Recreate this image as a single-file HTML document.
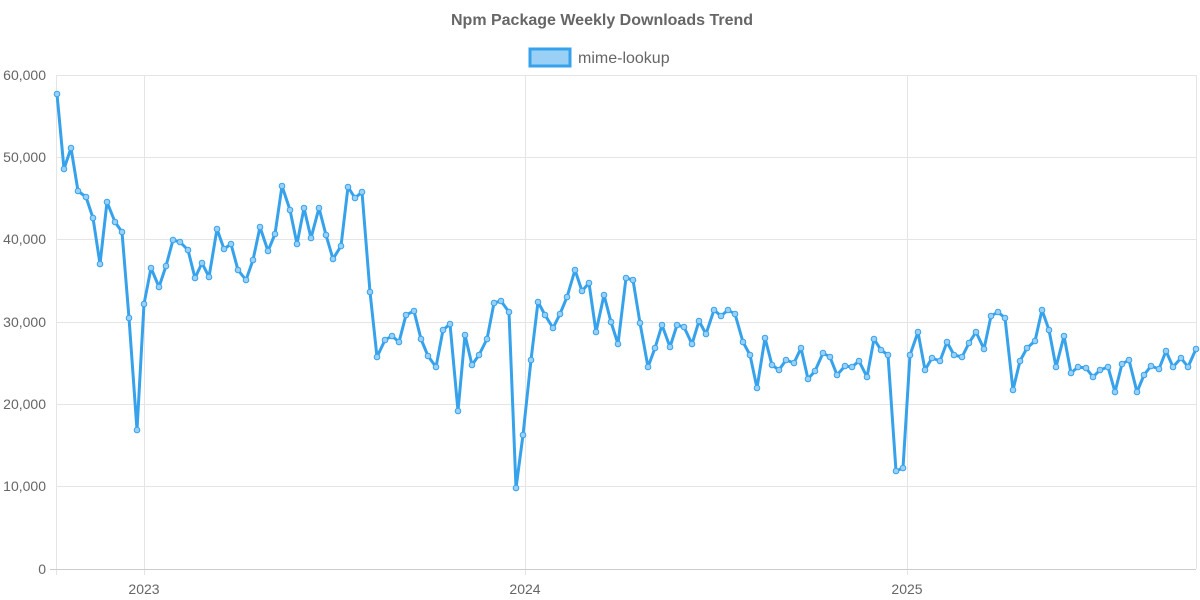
<!DOCTYPE html>
<html><head><meta charset="utf-8"><style>
html,body{margin:0;padding:0;background:#fff;}
svg{display:block;font-family:"Liberation Sans",Arial,sans-serif;}
</style></head><body>
<svg width="1200" height="600" viewBox="0 0 1200 600">
<text x="602" y="25" text-anchor="middle" font-size="16" font-weight="bold" fill="#666">Npm Package Weekly Downloads Trend</text>
<rect x="530" y="49" width="40" height="17" fill="#9ad0f5" stroke="#36a2eb" stroke-width="3"/>
<text x="578" y="63" font-size="16" fill="#666">mime-lookup</text>
<g stroke="#e5e5e5" stroke-width="1">
<line x1="57" y1="75.5" x2="1196" y2="75.5"/>
<line x1="57" y1="157.5" x2="1196" y2="157.5"/>
<line x1="57" y1="239.5" x2="1196" y2="239.5"/>
<line x1="57" y1="322.5" x2="1196" y2="322.5"/>
<line x1="57" y1="404.5" x2="1196" y2="404.5"/>
<line x1="57" y1="486.5" x2="1196" y2="486.5"/>
<line x1="56.5" y1="75" x2="56.5" y2="575"/>
<line x1="144.5" y1="75" x2="144.5" y2="575"/>
<line x1="525.5" y1="75" x2="525.5" y2="575"/>
<line x1="907.5" y1="75" x2="907.5" y2="575"/>
<line x1="1196.5" y1="75" x2="1196.5" y2="569"/>
</g>
<line x1="50" y1="569.5" x2="1196" y2="569.5" stroke="#ccc"/>
<g font-size="14" fill="#666" text-anchor="end">
<text x="46" y="80">60,000</text><text x="46" y="162">50,000</text><text x="46" y="244">40,000</text>
<text x="46" y="327">30,000</text><text x="46" y="409">20,000</text><text x="46" y="491">10,000</text><text x="46" y="574">0</text>
</g>
<g font-size="14" fill="#666" text-anchor="middle">
<text x="144" y="594">2023</text><text x="525" y="594">2024</text><text x="907" y="594">2025</text>
</g>
<polyline id="p" fill="none" stroke="#36a2eb" stroke-width="3" stroke-linejoin="round" points="57,94 64,169 71,148 78,191 86,197 93,218 100,264 107,202 115,222 122,232 129,318 137,430 144,304 151,268 159,287 166,266 173,240 180,242 188,250 195,278 202,263 209,277 217,229 224,249 231,244 238,270 246,280 253,260 260,227 268,251 275,234 282,186 290,210 297,244 304,208 311,238 319,208 326,235 333,259 341,246 348,187 355,198 362,192 370,292 377,357 385,340 392,336 399,342 406,315 414,311 421,339 428,356 436,367 443,330 450,324 458,411 465,335 472,365 479,355 487,339 494,303 501,301 509,312 516,488 523,435 531,360 538,302 545,315 553,328 560,314 567,297 575,270 582,291 589,283 596,332 604,295 611,322 618,344 626,278 633,280 640,323 648,367 655,348 662,325 670,347 677,325 684,327 692,344 699,321 706,334 714,310 721,316 728,310 735,314 743,342 750,355 757,388 765,338 772,365 779,370 786,360 794,363 801,348 808,379 815,371 823,353 830,357 837,375 845,366 852,367 859,361 867,377 874,339 881,350 888,355 896,471 903,468 910,355 918,332 925,370 932,358 940,361 947,342 954,355 962,357 969,343 976,332 984,349 991,316 998,312 1005,318 1013,390 1020,361 1027,348 1035,341 1042,310 1049,330 1056,367 1064,336 1071,373 1078,367 1086,368 1093,377 1100,370 1108,367 1115,392 1122,364 1129,360 1137,392 1144,375 1151,366 1159,369 1166,351 1173,367 1181,358 1188,367 1196,349"/>
<polyline fill="none" stroke="#9ad0f5" stroke-opacity="0.6" stroke-width="6" stroke-dasharray="0 7.3" stroke-linecap="round" points=""/>
</svg>
<script>
(function(){var p=document.getElementById('p');var pts=p.getAttribute('points').trim().split(/\s+/);var s=p.parentNode;pts.forEach(function(q){var a=q.split(',');var c=document.createElementNS('http://www.w3.org/2000/svg','circle');c.setAttribute('cx',a[0]);c.setAttribute('cy',a[1]);c.setAttribute('r','2.8');c.setAttribute('fill','#9ad0f5');c.setAttribute('stroke','#36a2eb');c.setAttribute('stroke-width','1');s.appendChild(c);});})();
</script>
</body></html>
